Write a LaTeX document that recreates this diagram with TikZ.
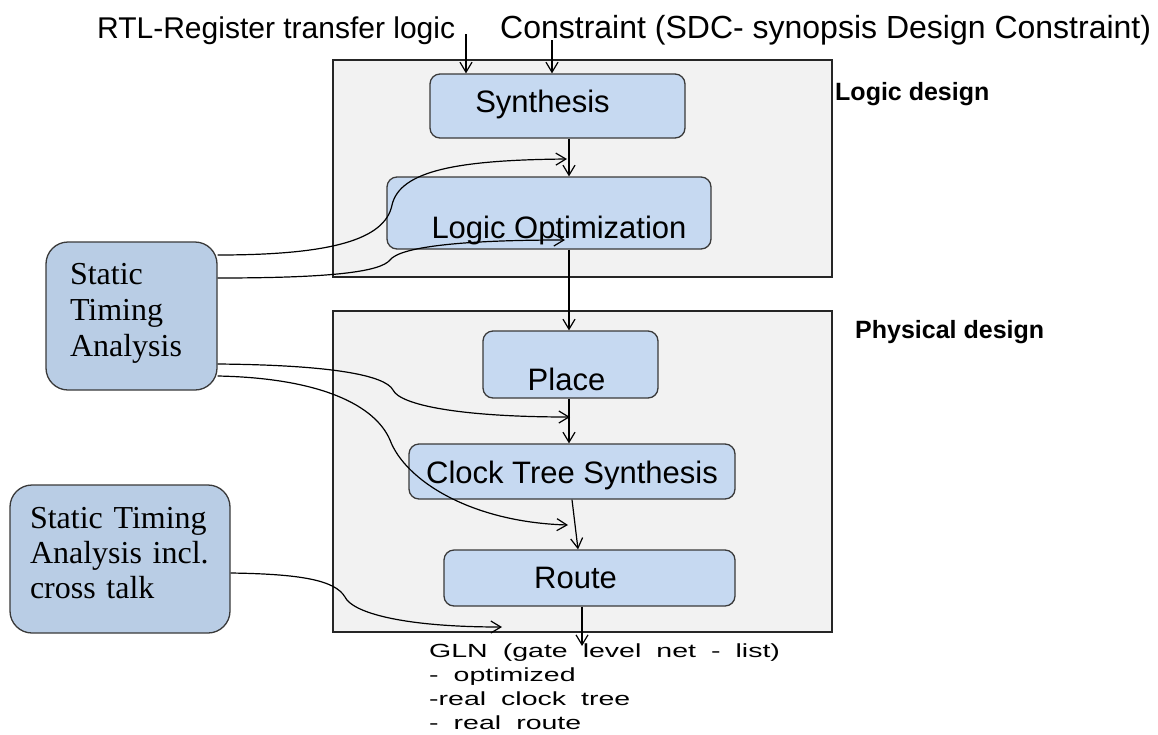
\documentclass[tikz,border=0pt]{standalone}
\usepackage{fontspec}
\setmainfont{Liberation Serif}
\newfontfamily\arialf{Liberation Sans}
\newfontfamily\glnf[FakeStretch=1.5,WordSpace=1.9]{Liberation Sans}
\usetikzlibrary{arrows.meta}
\definecolor{panelgray}{HTML}{F2F2F2}
\definecolor{procblue}{HTML}{C6D9F1}
\definecolor{stablue}{HTML}{B9CDE5}
\definecolor{edgegray}{HTML}{3A3A3A}

\begin{document}
\begin{tikzpicture}[x=1pt,y=-1pt,
  panel/.style={draw=black!85, line width=1.5pt, fill=panelgray, inner sep=0pt},
  proc/.style={draw=edgegray, line width=1.3pt, fill=procblue, rounded corners=10pt,
    inner sep=0pt, font=\arialf\fontsize{31}{36}\selectfont},
  sta/.style={draw=edgegray, line width=1.3pt, fill=stablue, rounded corners=22pt,
    align=left, inner ysep=0pt},
  flow/.style={draw=black, line width=1.2pt, -{Straight Barb[length=10pt,width=12pt]}},
  heading/.style={font=\arialf\bfseries\fontsize{25}{30}\selectfont, inner sep=0pt, anchor=base west},
  toplabel/.style={font=\arialf\fontsize{30}{36}\selectfont, inner sep=0pt, anchor=base west},
]
\fill[white] (0,0) rectangle (1158,734);
\useasboundingbox (0,0) rectangle (1158,734);

% design stage panels
\node[panel, minimum width=499pt, minimum height=217pt] (logicbg) at (582.5,168.5) {};
\node[panel, minimum width=499pt, minimum height=321pt] (physbg) at (582.5,471.5) {};
\node[heading] (logichead) at (835,100) {Logic design};
\node[heading] (physhead) at (855,338) {Physical design};

% inputs
\node[toplabel] (rtl) at (97,38) {RTL-Register transfer logic};
\node[toplabel, font=\arialf\fontsize{32}{36}\selectfont] (sdc) at (500,38) {Constraint (SDC- synopsis Design Constraint)};

% flow steps
\node[proc, minimum width=255pt, minimum height=64pt, text height=22pt, text depth=10pt]
  (synth) at (557.5,106) {\hspace*{-30pt}Synthesis};
\node[proc, minimum width=324pt, minimum height=72pt, text height=50pt, text depth=0pt]
  (logopt) at (549,213) {\hspace*{20pt}Logic Optimization};
\node[proc, minimum width=175pt, minimum height=67pt, text height=51pt, text depth=0pt]
  (place) at (570.5,364.5) {\hspace*{-8pt}Place};
\node[proc, minimum width=326pt, minimum height=55pt, text height=27pt, text depth=4pt]
  (cts) at (572,471.5) {Clock Tree Synthesis};
\node[proc, minimum width=291pt, minimum height=56pt, text height=22pt, text depth=2pt]
  (route) at (589.5,578) {\hspace*{-28pt}Route};

% timing analysis
\node[sta, text width=123pt, inner xsep=24pt, minimum height=148pt,
  font=\fontsize{32}{36}\selectfont]
  (sta1) at (131.5,316) {Static\\Timing\\Analysis\rule[-12pt]{0pt}{0pt}};
\node[sta, text width=180pt, inner xsep=20pt, minimum height=148pt,
  font=\fontsize{32}{35}\selectfont]
  (sta2) at (120,559) {Static Timing\\Analysis incl.\\cross talk\rule[-12pt]{0pt}{0pt}};

% output netlist (base anchor sits on the last line)
\node[font=\glnf\fontsize{19}{24}\selectfont, align=left, anchor=base west, inner sep=0pt]
  (gln) at (429,729) {GLN (gate level net - list)\\- optimized\\-real clock tree\\- real route};

% main flow
\coordinate (sx) at (569,0);
\coordinate (rtlin) at (466,34);
\coordinate (sdcin) at (552,40);
\coordinate (glnin) at (582,646);
\draw[flow] (rtlin) -- (rtlin |- synth.north);
\draw[flow] (sdcin) -- (sdcin |- synth.north);
\draw[flow] (sx |- synth.south) -- (sx |- logopt.north);
\draw[flow] (sx |- logopt.south) -- (sx |- place.north);
\draw[flow] (sx |- place.south) -- (sx |- cts.north);
\draw[flow] (cts.south) -- ([xshift=-11.5pt]route.north);
\draw[flow] ([xshift=-7.5pt]route.south) -- (glnin);

% timing feedback
\coordinate (tA) at (567,159);
\coordinate (tB) at (565,240);
\coordinate (tC) at (570,417);
\coordinate (tD) at (568,525);
\coordinate (tE) at (502,627);
\draw[flow] ([yshift=61pt]sta1.east) .. controls (330,255) and (385,240) .. (392,205)
  .. controls (400,170) and (460,160) .. (tA);
\draw[flow] ([yshift=38pt]sta1.east) .. controls (330,278) and (380,272) .. (390,260)
  .. controls (400,247) and (460,240) .. (tB);
\draw[flow] ([yshift=-48pt]sta1.east) .. controls (330,365) and (385,375) .. (393,390)
  .. controls (400,405) and (460,417) .. (tC);
\draw[flow] ([yshift=-60pt]sta1.east) .. controls (320,378) and (375,405) .. (390,440)
  .. controls (405,480) and (470,522) .. (tD);
\draw[flow] ([yshift=-14pt]sta2.east) .. controls (300,574) and (335,580) .. (345,597)
  .. controls (352,612) and (400,627) .. (tE);
\end{tikzpicture}
\end{document}
